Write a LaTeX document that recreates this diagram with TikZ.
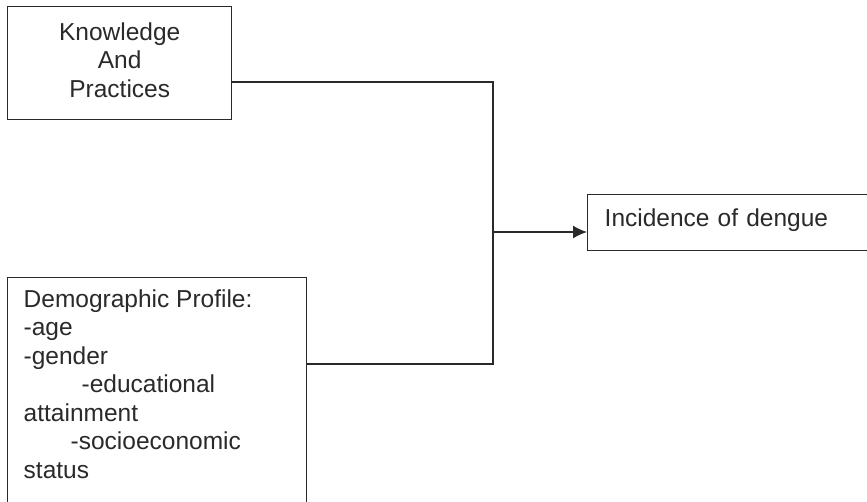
\documentclass[tikz,border=0pt]{standalone}
\usepackage{fontspec}
\setmainfont{Liberation Sans}
\usetikzlibrary{arrows.meta}
\definecolor{ink}{HTML}{2A2A2A}
\begin{document}
\begin{tikzpicture}[x=1pt,y=-1pt,
  boxed/.style={draw=ink, line width=1.4pt, rectangle, text=ink,
    font=\fontsize{24.5}{28.5}\selectfont},
  wire/.style={draw=ink, line width=1.4pt},
  arr/.style={wire, -{Latex[length=14pt,width=13pt]}}]
\useasboundingbox (0,0) rectangle (867,501);
\clip (0,0) rectangle (867,501);
\fill[white] (0,0) rectangle (867,501);
% boxes
\node[boxed, anchor=north west, minimum width=224pt, minimum height=113pt,
  align=center, inner sep=0pt] (know) at (7,6)
  {Knowledge\\And\\Practices\rule[-7pt]{0pt}{0pt}};
\node[boxed, anchor=north west, minimum height=56pt, text width=250pt,
  align=left, inner xsep=17pt, text height=17.9pt, text depth=9.9pt] (inc) at (587,194)
  {Incidence of dengue};
\node[boxed, anchor=north west, inner xsep=16pt, inner ysep=12pt] (demo) at (7,277)
  {\parbox[t][220pt][t]{267pt}{\fontsize{24.5}{28.5}\selectfont\raggedright
   Demographic Profile:\\
   -age\\
   -gender\\
   \hspace*{58pt}-educational\\
   attainment\\
   \hspace*{47pt}-socioeconomic\\
   status}};
% connectors
\coordinate (top) at (493,82);
\coordinate (bot) at (493,364);
\coordinate (j) at (493,232);
\draw[wire] (know.east |- top) -- (top) -- (bot) -- (demo.east |- bot);
\draw[arr] (j) -- (inc.west |- j);
\end{tikzpicture}
\end{document}
